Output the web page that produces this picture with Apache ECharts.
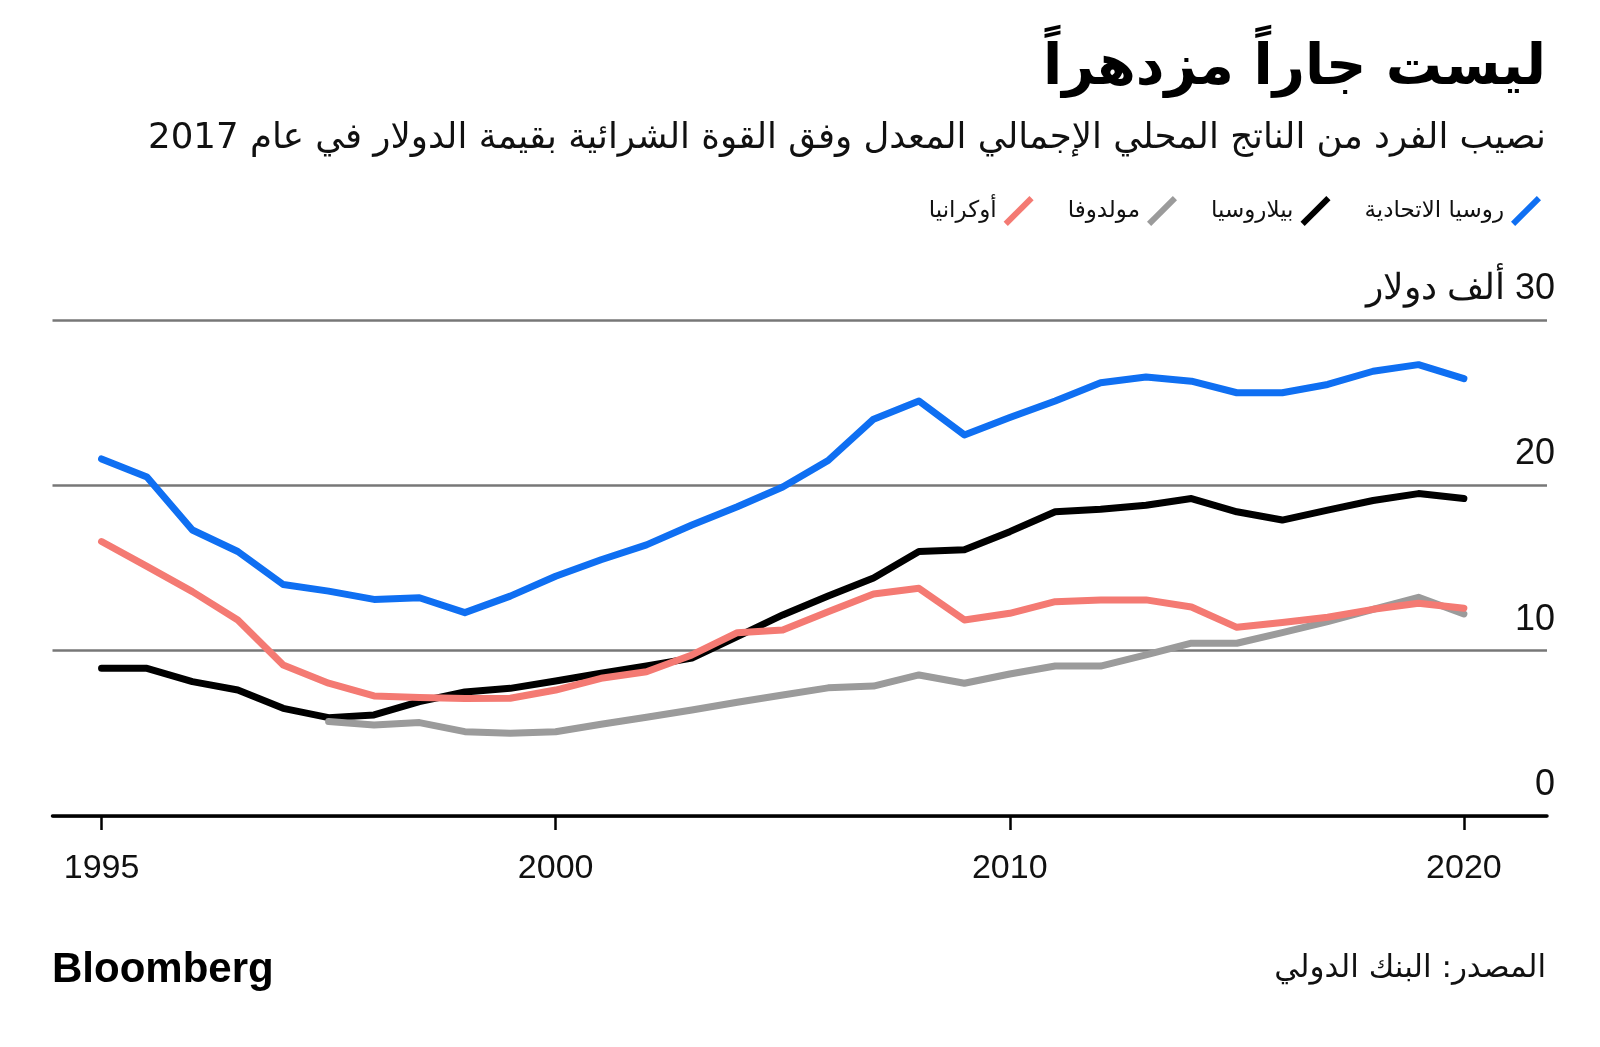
<!DOCTYPE html>
<html>
<head>
<meta charset="utf-8">
<script src="https://cdn.jsdelivr.net/npm/echarts@6/dist/echarts.min.js"></script>
<style>
html,body{margin:0;padding:0;background:#fff;}
#chart{width:1600px;height:1047px;}
</style>
</head>
<body>
<div id="chart"></div>
<script>
// ---- data ----
const years = [1990,1991,1992,1993,1994,1995,1996,1997,1998,1999,2000,2001,2002,2003,2004,2005,2006,2007,2008,2009,2010,2011,2012,2013,2014,2015,2016,2017,2018,2019,2020];
const russia  = [21.6,20.5,17.3,16.0,14.0,13.6,13.1,13.2,12.3,13.3,14.5,15.5,16.4,17.6,18.7,19.9,21.5,24.0,25.1,23.05,24.1,25.1,26.2,26.55,26.3,25.6,25.6,26.1,26.9,27.3,26.45];
const belarus = [8.93,8.93,8.13,7.62,6.51,5.95,6.11,6.92,7.5,7.72,8.17,8.63,9.07,9.55,10.85,12.16,13.3,14.4,16.0,16.1,17.2,18.4,18.55,18.8,19.2,18.4,17.9,18.5,19.08,19.5,19.2];
const moldova = [null,null,null,null,null,5.71,5.5,5.65,5.1,5.0,5.1,5.55,5.97,6.41,6.88,7.32,7.75,7.86,8.53,8.03,8.59,9.07,9.07,9.74,10.45,10.45,11.09,11.76,12.5,13.23,12.22];
const ukraine = [16.6,15.1,13.57,11.86,9.13,8.03,7.26,7.16,7.1,7.12,7.62,8.33,8.73,9.74,11.09,11.25,12.35,13.43,13.77,11.86,12.26,12.96,13.07,13.07,12.64,11.41,11.7,12.02,12.5,12.87,12.57];

const seriesNames = ['روسيا الاتحادية','بيلاروسيا','مولدوفا','أوكرانيا'];
const seriesColors = ['#0f6ff2','#000000','#9b9b9b','#f47a73'];

const xTickYears  = [1990,2000,2010,2020];
const xTickLabels = ['1995','2000','2010','2020'];
const yTickValues = [0,10,20,30];
const yTickLabels = ['0','10','20','30 ألف دولار'];

const titleText = 'ليست جاراً مزدهراً';
const subtitleText = 'نصيب الفرد من الناتج المحلي الإجمالي المعدل وفق القوة الشرائية بقيمة الدولار في عام 2017';
const sourceText = 'المصدر: البنك الدولي';
const brandText = 'Bloomberg';

// ---- chart ----
const arabicFont = "'DejaVu Sans', sans-serif";
const latinFont = "'Liberation Sans', Arial, sans-serif";
const pairs = arr => years.map((y,i)=>[y, arr[i]]);
const allValues = [russia, belarus, moldova, ukraine];

const legendIcon = 'path://M0.9,26.9 L26.9,0.9 L31.1,5.1 L5.1,31.1 Z';

const chart = echarts.init(document.getElementById('chart'), null, {renderer:'canvas'});
chart.setOption({
  backgroundColor: '#ffffff',
  animation: false,
  title: [
    {text: titleText, right: 54, top: 41, padding: 0,
     textStyle: {fontSize: 56, fontWeight: 'bold', fontFamily: arabicFont, color: '#000'}},
    {text: subtitleText, right: 54, top: 121, padding: 0,
     textStyle: {fontSize: 35.6, fontWeight: 'normal', fontFamily: arabicFont, color: '#111'}},
    {text: sourceText, right: 54, top: 953, padding: 0,
     textStyle: {fontSize: 31, fontWeight: 'normal', fontFamily: arabicFont, color: '#111'}},
    {text: brandText, left: 52, top: 949, padding: 0,
     textStyle: {fontSize: 42, fontWeight: 'bold', fontFamily: latinFont, color: '#000'}}
  ],
  legend: {
    data: seriesNames.map((n,i)=>({name:n, icon: legendIcon, itemStyle:{color: seriesColors[i]}})).reverse(),
    right: 54, top: 191,
    align: 'right',
    itemWidth: 30, itemHeight: 32, itemGap: 34,
    selectedMode: false,
    textStyle: {fontSize: 23, fontFamily: arabicFont, color: '#111', padding: [0, 2, 0, 0]}
  },
  grid: {left: 52.5, right: 53, top: 320, bottom: 231, containLabel: false},
  xAxis: {
    type: 'value', min: 1988.92, max: 2021.83,
    axisLine: {show: true, lineStyle: {color: '#000', width: 3.5}},
    axisTick: {show: true, customValues: xTickYears, length: 14, lineStyle: {color: '#000', width: 2.5}},
    axisLabel: {customValues: xTickYears, margin: 36, fontSize: 34, fontFamily: latinFont, color: '#111',
      formatter: v => xTickLabels[xTickYears.indexOf(v)] || ''},
    splitLine: {show: false}
  },
  yAxis: {
    type: 'value', position: 'right', min: 0, max: 30, interval: 10,
    axisLine: {show: false}, axisTick: {show: false},
    splitLine: {show: true, lineStyle: {color: '#777', width: 2.5}},
    axisLabel: {
      margin: 8, align: 'right', verticalAlign: 'bottom', padding: [0,0,13,0],
      fontSize: 36, fontFamily: latinFont, color: '#111',
      formatter: v => { const k = yTickValues.indexOf(v); const t = k>=0 ? yTickLabels[k] : ''; return /[\u0600-\u06FF]/.test(t) ? '\u200F' + t : t; }
    }
  },
  series: seriesNames.map((n,i)=>({
    name: n, type: 'line', data: pairs(allValues[i]),
    showSymbol: false, symbol: 'none', connectNulls: false,
    lineStyle: {color: seriesColors[i], width: 7, cap: 'round', join: 'round'},
    itemStyle: {color: seriesColors[i]},
    z: 2 + i
  }))
});
</script>
</body>
</html>
